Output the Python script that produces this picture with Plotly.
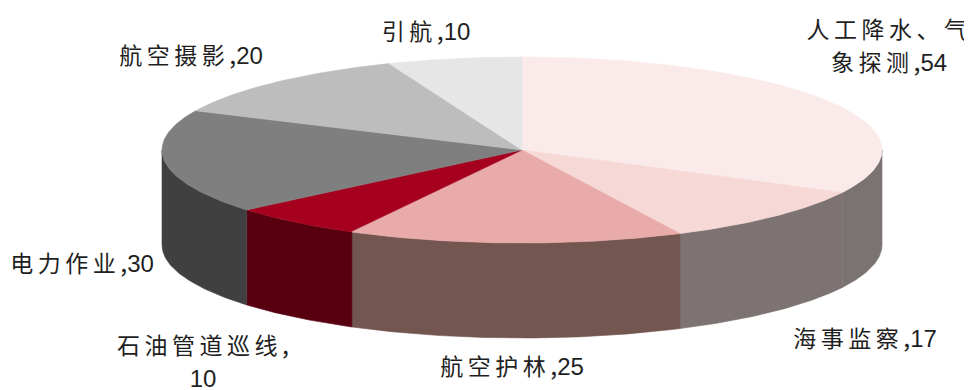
import numpy as np
import plotly.graph_objects as go

categories = ["人工降水、气象探测", "海事监察", "航空护林", "石油管道巡线", "电力作业", "航空摄影", "引航"]
values = [54, 17, 25, 10, 30, 20, 10]
top_colors = ["#FAEBEA", "#F6D8D6", "#E9ABA9", "#A5001E", "#7F7F7F", "#BDBDBD", "#E6E6E6"]
side_colors = ["#7B7272", "#7D7372", "#735650", "#590010", "#404040", "#5F5F5F", "#737373"]
label_x = [889, 865, 512, 203, 82, 191, 426]
label_y = [48, 341, 369, 364, 266, 58, 34]
wrap_after = [6, None, None, None, None, None, None]
wrap_before_value = [False, False, False, True, False, False, False]

CX, CY, RX, RY, DEPTH = 522, 150, 360, 93, 95
PAGE_MARGIN = 8  # the page body offsets the plot


def cjk(s):
    return f'<span style="font-size:23px;letter-spacing:4.5px">{s}</span>'


def num(v):
    return f'<span style="font-family:Liberation Sans;font-size:24px">{v}</span>'


def label(name, v, wrap, before):
    if wrap:
        name = cjk(name[:wrap]) + "<br>" + cjk(name[wrap:]) + ","
    else:
        name = cjk(name) + ","
    return name + ("<br>" if before else "") + num(v)


label_texts = [label(c, v, w, b) for c, v, w, b in zip(categories, values, wrap_after, wrap_before_value)]

fig = go.Figure()
fracs = np.cumsum([0] + values) / sum(values) * 2 * np.pi


def xy(t):
    return CX + RX * np.sin(t), CY - RY * np.cos(t)


for i in range(len(values)):
    lo, hi = max(fracs[i], np.pi / 2), min(fracs[i + 1], 3 * np.pi / 2)
    if hi <= lo:
        continue
    t = np.linspace(lo, hi, 80)
    x, y = xy(t)
    px = list(x) + list(x[::-1])
    py = list(y) + list((y + DEPTH)[::-1])
    fig.add_trace(go.Scatter(x=px + px[:1], y=py + py[:1], mode="lines", fill="toself",
                             fillcolor=side_colors[i], line=dict(width=0.6, color=side_colors[i]),
                             hoverinfo="skip", showlegend=False))

for i in range(len(values)):
    t = np.linspace(fracs[i], fracs[i + 1], 120)
    x, y = xy(t)
    fig.add_trace(go.Scatter(x=[CX] + list(x) + [CX], y=[CY] + list(y) + [CY], mode="lines", fill="toself",
                             fillcolor=top_colors[i], line=dict(width=0.6, color=top_colors[i]),
                             hoverinfo="skip", showlegend=False))

fig.add_trace(go.Scatter(x=label_x, y=label_y, mode="text", text=label_texts,
                         textfont=dict(family="Noto Sans CJK SC", size=25, color="#1F1F1F"),
                         hoverinfo="skip", showlegend=False))

fig.update_layout(width=972 - PAGE_MARGIN, height=390 - PAGE_MARGIN, margin=dict(l=0, r=0, t=0, b=0),
                  paper_bgcolor="white", plot_bgcolor="white",
                  xaxis=dict(range=[PAGE_MARGIN, 972], visible=False, fixedrange=True),
                  yaxis=dict(range=[390, PAGE_MARGIN], visible=False, fixedrange=True))
fig.write_html("out.html")
